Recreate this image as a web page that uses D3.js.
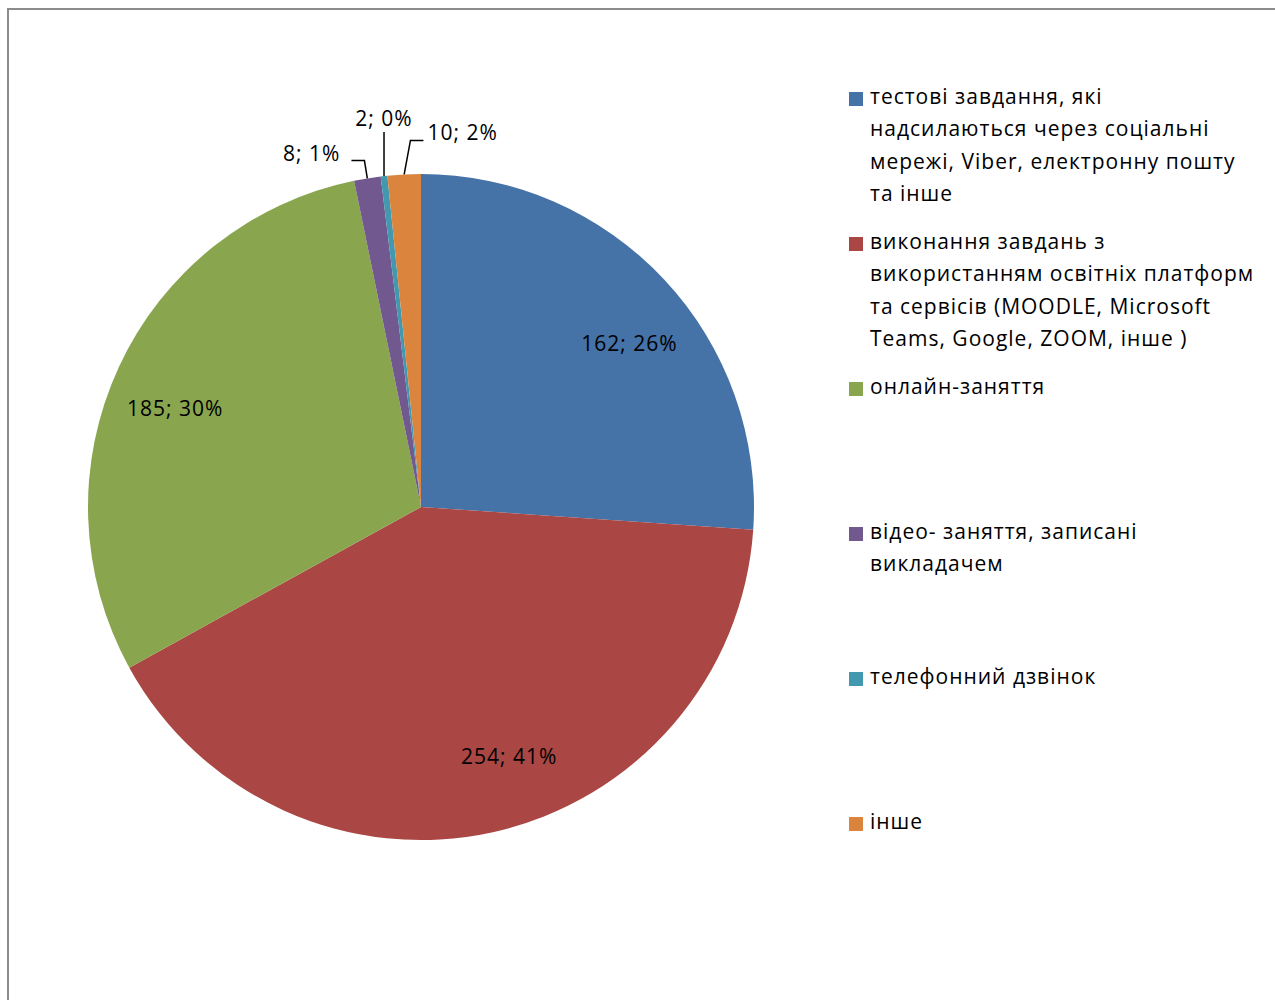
<!DOCTYPE html>
<html lang="uk">
  <head>
    <meta charset="utf-8">
    <script src="https://cdnjs.cloudflare.com/ajax/libs/d3/7.8.5/d3.min.js"></script>
    <title>Pie chart</title>
    <style>
      body { margin: 0; background: #fff; }
      text { font-family: "Open Sans", "Noto Sans", sans-serif; fill: #000; letter-spacing: 1px; }
    </style>
  </head>
  <body>
    <div id="chart"></div>
    <script>
      // categories (legend lines split where the original wraps)
      var categories = [
        "тестові завдання, які\nнадсилаються через соціальні\nмережі, Viber, електронну пошту\nта інше",
        "виконання завдань з\nвикористанням освітніх платформ\nта сервісів (MOODLE, Microsoft\nTeams, Google, ZOOM, інше )",
        "онлайн-заняття",
        "відео- заняття, записані\nвикладачем",
        "телефонний дзвінок",
        "інше"
      ];
      var values = [162, 254, 185, 8, 2, 10];
      var colors = ["#4572A7", "#AA4643", "#89A54E", "#71588F", "#4198AF", "#DB843D"];

      // how each data label is placed: inside, or outside with a leader line
      var labelMode = ["in", "in", "in", "left", "top", "right"];
      var leaderLen = [0, 0, 0, 18, 44, 34];
      var labelTurn = [5, -7, -3, 0, 0, 0]; // degrees, "best fit" nudge of inside labels

      var W = 1275, H = 1000;
      var cx = 421, cy = 507, R = 333;

      var svg = d3.select("#chart").append("svg")
          .attr("width", W).attr("height", H);

      // chart area frame
      svg.append("rect")
          .attr("x", 8).attr("y", 9)
          .attr("width", W + 20).attr("height", H + 20)
          .attr("fill", "none")
          .attr("stroke", "#8c8c8c")
          .attr("stroke-width", 2);

      var total = d3.sum(values);
      var data = values.map(function (v, i) {
        return { name: categories[i], value: v, i: i };
      });

      var pie = d3.pie().sort(null).value(function (d) { return d.value; });
      var arcs = pie(data);
      var arc = d3.arc().innerRadius(0).outerRadius(R);
      var labelR = R * 0.795;

      var g = svg.append("g").attr("transform", "translate(" + cx + "," + cy + ")");

      g.selectAll("path.slice")
        .data(arcs)
        .enter().append("path")
          .attr("class", "slice")
          .attr("d", arc)
          .attr("fill", function (d) { return colors[d.data.i]; });

      var pct = d3.format(".0%");
      function labelText(d) { return d.data.value + "; " + pct(d.data.value / total); }

      arcs.forEach(function (d) {
        var i = d.data.i;
        var mode = labelMode[i];
        var mid = (d.startAngle + d.endAngle) / 2;
        if (mode === "in") {
          var a = mid + labelTurn[i] * Math.PI / 180;
          g.append("text")
            .attr("x", labelR * Math.sin(a)).attr("y", -labelR * Math.cos(a))
            .attr("dy", "0.35em")
            .attr("text-anchor", "middle")
            .style("font-size", "21px")
            .text(labelText(d));
          return;
        }
        var px = R * Math.sin(mid), py = -R * Math.cos(mid);
        var pts;
        var tx, ty, anchor;
        if (mode === "top") {
          pts = [[px, py], [px, py - leaderLen[i]]];
          tx = px; ty = py - leaderLen[i] - 6; anchor = "middle";
        } else {
          var rr = R + leaderLen[i];
          var ex = rr * Math.sin(mid), ey = -rr * Math.cos(mid);
          var dir = mode === "left" ? -1 : 1;
          if (mode === "right") ex += 8;
          pts = [[px, py], [ex, ey], [ex + dir * 13, ey]];
          tx = ex + dir * 17; ty = ey; anchor = mode === "left" ? "end" : "start";
          if (mode === "left") tx = ex + dir * 24;
        }
        g.append("path")
          .attr("d", d3.line()(pts))
          .attr("fill", "none")
          .attr("stroke", "#000")
          .attr("stroke-width", 1.5);
        g.append("text")
          .attr("x", tx).attr("y", ty)
          .attr("text-anchor", anchor)
          .style("font-size", "21px")
          .text(labelText(d));
      });

      // legend
      var legend = svg.append("g").attr("transform", "translate(849,92)");
      var item = legend.selectAll("g.item")
        .data(data)
        .enter().append("g")
          .attr("class", "item")
          .attr("transform", function (d, i) { return "translate(0," + (i * 145) + ")"; });
      item.append("rect")
        .attr("width", 14).attr("height", 14)
        .attr("fill", function (d) { return colors[d.i]; });
      item.append("text")
        .style("font-size", "21px")
        .selectAll("tspan")
        .data(function (d) { return d.name.split("\n"); })
        .enter().append("tspan")
          .attr("x", 21)
          .attr("y", function (d, j) { return 12 + j * 32.3; })
          .text(function (d) { return d; });
    </script>
  </body>
</html>
